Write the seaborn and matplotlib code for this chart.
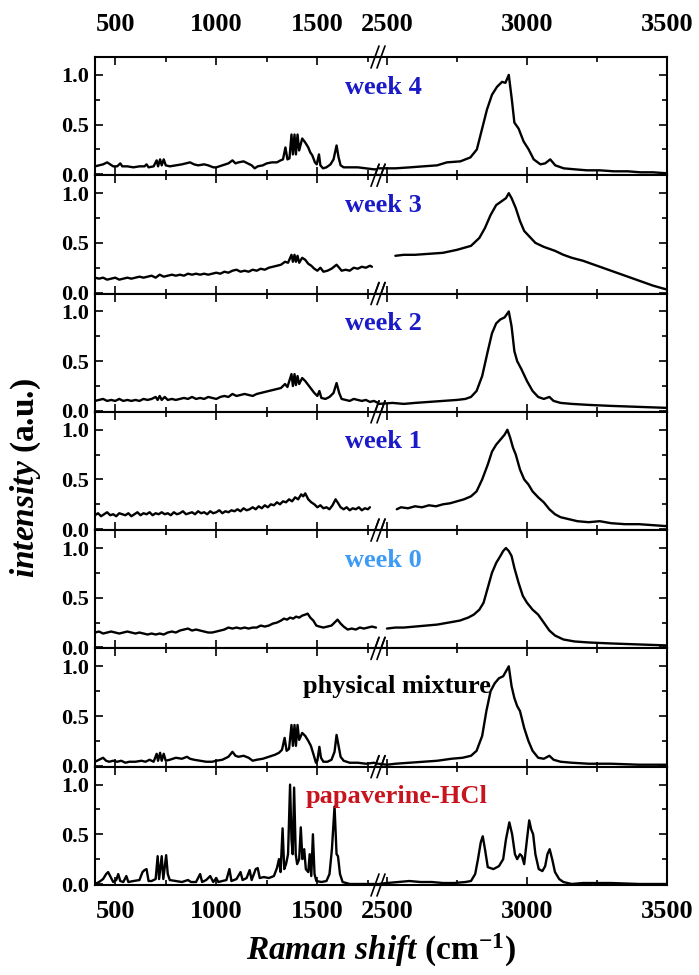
import numpy as np
import pandas as pd
import matplotlib
matplotlib.use("Agg")
import matplotlib.pyplot as plt
import seaborn as sns
from matplotlib.ticker import MultipleLocator

# ---- spectra (x in cm-1, y normalised intensity) ----
# left window 400-1800, right window 2470-3500
wk4_lo_x = [400, 420, 440, 460, 475, 490, 510, 525, 535, 560, 590, 620, 645, 655, 665, 690, 705, 712, 722, 730, 740, 750, 770, 800, 830, 850, 870, 890, 910, 940, 960, 985, 1000, 1030, 1060, 1080, 1095, 1110, 1135, 1155, 1175, 1190, 1205, 1230, 1250, 1275, 1300, 1318, 1330, 1342, 1352, 1362, 1372, 1379, 1387, 1394, 1402, 1410, 1425, 1440, 1455, 1465, 1475, 1488, 1497, 1508, 1515, 1528, 1545, 1565, 1580, 1595, 1605, 1615, 1630, 1660, 1700, 1740, 1780, 1800]
wk4_lo_y = [0.08, 0.09, 0.10, 0.12, 0.10, 0.08, 0.08, 0.11, 0.08, 0.08, 0.07, 0.08, 0.08, 0.10, 0.07, 0.08, 0.14, 0.08, 0.15, 0.09, 0.15, 0.09, 0.08, 0.09, 0.10, 0.11, 0.12, 0.10, 0.09, 0.10, 0.09, 0.07, 0.07, 0.09, 0.11, 0.14, 0.11, 0.12, 0.13, 0.11, 0.09, 0.06, 0.08, 0.09, 0.11, 0.12, 0.12, 0.14, 0.15, 0.27, 0.15, 0.16, 0.40, 0.20, 0.40, 0.20, 0.40, 0.24, 0.36, 0.32, 0.27, 0.22, 0.19, 0.12, 0.10, 0.20, 0.09, 0.06, 0.07, 0.10, 0.15, 0.29, 0.17, 0.09, 0.07, 0.07, 0.07, 0.06, 0.05, 0.05]
wk4_hi_x = [2470, 2488, 2530, 2583, 2630, 2679, 2714, 2762, 2798, 2821, 2839, 2857, 2875, 2893, 2911, 2923, 2935, 2946, 2955, 2970, 2988, 3006, 3024, 3048, 3065, 3083, 3101, 3131, 3170, 3214, 3260, 3310, 3360, 3405, 3450, 3500]
wk4_hi_y = [0.06, 0.06, 0.06, 0.07, 0.08, 0.09, 0.12, 0.13, 0.17, 0.25, 0.45, 0.65, 0.80, 0.88, 0.93, 0.92, 1.00, 0.75, 0.52, 0.46, 0.33, 0.25, 0.15, 0.10, 0.11, 0.15, 0.09, 0.06, 0.05, 0.04, 0.04, 0.03, 0.03, 0.02, 0.02, 0.01]

wk3_lo_x = [400, 420, 440, 460, 480, 500, 520, 540, 560, 580, 600, 620, 640, 660, 680, 700, 720, 740, 760, 780, 800, 820, 840, 860, 880, 900, 920, 940, 960, 980, 1000, 1020, 1040, 1060, 1080, 1100, 1120, 1140, 1160, 1180, 1200, 1220, 1240, 1260, 1280, 1300, 1320, 1340, 1355, 1372, 1379, 1387, 1394, 1402, 1410, 1425, 1440, 1455, 1470, 1485, 1500, 1515, 1530, 1550, 1570, 1595, 1608, 1620, 1640, 1660, 1680, 1700, 1720, 1740, 1760, 1770]
wk3_lo_y = [0.15, 0.14, 0.15, 0.13, 0.14, 0.15, 0.13, 0.14, 0.15, 0.14, 0.15, 0.16, 0.15, 0.16, 0.17, 0.15, 0.18, 0.16, 0.17, 0.18, 0.17, 0.18, 0.17, 0.19, 0.18, 0.19, 0.18, 0.19, 0.18, 0.19, 0.20, 0.19, 0.21, 0.20, 0.22, 0.23, 0.21, 0.22, 0.21, 0.23, 0.22, 0.24, 0.23, 0.25, 0.26, 0.27, 0.28, 0.31, 0.30, 0.38, 0.31, 0.38, 0.31, 0.37, 0.30, 0.35, 0.33, 0.29, 0.27, 0.24, 0.22, 0.25, 0.21, 0.22, 0.24, 0.28, 0.25, 0.22, 0.23, 0.22, 0.25, 0.24, 0.26, 0.25, 0.27, 0.26]
wk3_hi_x = [2530, 2560, 2600, 2650, 2700, 2750, 2800, 2830, 2850, 2870, 2890, 2910, 2925, 2935, 2945, 2960, 2975, 2990, 3010, 3030, 3060, 3080, 3100, 3130, 3160, 3200, 3250, 3300, 3350, 3400, 3450, 3500]
wk3_hi_y = [0.37, 0.38, 0.38, 0.39, 0.40, 0.43, 0.47, 0.55, 0.65, 0.78, 0.88, 0.92, 0.95, 1.00, 0.95, 0.85, 0.72, 0.62, 0.56, 0.50, 0.46, 0.44, 0.42, 0.38, 0.35, 0.32, 0.27, 0.22, 0.17, 0.12, 0.07, 0.03]

wk2_lo_x = [400, 420, 440, 460, 480, 500, 520, 540, 560, 580, 600, 620, 640, 660, 680, 700, 710, 720, 730, 745, 760, 780, 800, 820, 840, 860, 880, 900, 920, 940, 960, 980, 1000, 1020, 1040, 1060, 1080, 1100, 1120, 1140, 1160, 1180, 1200, 1220, 1240, 1260, 1280, 1300, 1320, 1340, 1352, 1372, 1379, 1387, 1394, 1402, 1410, 1425, 1440, 1455, 1470, 1485, 1500, 1510, 1520, 1540, 1560, 1580, 1595, 1608, 1620, 1640, 1660, 1680, 1700, 1720, 1740, 1760, 1780, 1800]
wk2_lo_y = [0.10, 0.11, 0.12, 0.10, 0.11, 0.10, 0.12, 0.10, 0.11, 0.10, 0.11, 0.10, 0.12, 0.11, 0.12, 0.14, 0.11, 0.15, 0.11, 0.14, 0.11, 0.12, 0.11, 0.12, 0.13, 0.12, 0.14, 0.12, 0.13, 0.12, 0.14, 0.13, 0.12, 0.14, 0.15, 0.14, 0.17, 0.15, 0.16, 0.17, 0.16, 0.15, 0.17, 0.18, 0.19, 0.20, 0.21, 0.22, 0.23, 0.27, 0.24, 0.37, 0.25, 0.37, 0.26, 0.35, 0.27, 0.33, 0.30, 0.26, 0.22, 0.18, 0.15, 0.20, 0.13, 0.12, 0.14, 0.18, 0.28, 0.18, 0.12, 0.11, 0.10, 0.12, 0.11, 0.10, 0.11, 0.09, 0.10, 0.08]
wk2_hi_x = [2470, 2520, 2560, 2600, 2650, 2700, 2750, 2780, 2800, 2820, 2840, 2860, 2875, 2890, 2905, 2920, 2935, 2945, 2955, 2965, 2980, 3000, 3020, 3040, 3060, 3080, 3095, 3120, 3160, 3220, 3300, 3400, 3500]
wk2_hi_y = [0.07, 0.08, 0.07, 0.08, 0.09, 0.10, 0.11, 0.12, 0.14, 0.20, 0.35, 0.60, 0.78, 0.88, 0.92, 0.94, 1.00, 0.85, 0.60, 0.50, 0.42, 0.30, 0.20, 0.14, 0.12, 0.14, 0.10, 0.08, 0.07, 0.06, 0.05, 0.04, 0.03]

wk1_lo_x = [400, 415, 430, 445, 460, 475, 490, 505, 520, 535, 550, 565, 580, 595, 610, 625, 640, 655, 670, 685, 700, 715, 730, 745, 760, 775, 790, 805, 820, 835, 850, 865, 880, 895, 910, 925, 940, 955, 970, 985, 1000, 1015, 1030, 1045, 1060, 1075, 1090, 1105, 1120, 1135, 1150, 1165, 1180, 1195, 1210, 1225, 1240, 1255, 1270, 1285, 1300, 1315, 1330, 1345, 1360, 1375, 1390, 1405, 1420, 1430, 1440, 1455, 1470, 1485, 1500, 1515, 1530, 1545, 1560, 1575, 1590, 1600, 1615, 1630, 1645, 1660, 1675, 1690, 1705, 1720, 1735, 1750, 1760]
wk1_lo_y = [0.14, 0.16, 0.13, 0.15, 0.17, 0.14, 0.15, 0.13, 0.16, 0.15, 0.14, 0.16, 0.13, 0.15, 0.17, 0.14, 0.16, 0.15, 0.17, 0.14, 0.16, 0.15, 0.17, 0.15, 0.16, 0.14, 0.17, 0.15, 0.16, 0.18, 0.15, 0.16, 0.17, 0.15, 0.18, 0.16, 0.17, 0.15, 0.18, 0.16, 0.17, 0.19, 0.16, 0.18, 0.17, 0.19, 0.18, 0.20, 0.18, 0.21, 0.19, 0.20, 0.22, 0.20, 0.23, 0.21, 0.24, 0.22, 0.25, 0.24, 0.27, 0.25, 0.28, 0.27, 0.30, 0.28, 0.32, 0.30, 0.35, 0.33, 0.36, 0.30, 0.27, 0.25, 0.22, 0.24, 0.21, 0.22, 0.20, 0.24, 0.30, 0.27, 0.22, 0.20, 0.22, 0.19, 0.21, 0.20, 0.22, 0.19, 0.21, 0.20, 0.22]
wk1_hi_x = [2535, 2550, 2575, 2600, 2625, 2650, 2675, 2700, 2725, 2750, 2775, 2800, 2820, 2840, 2860, 2875, 2890, 2905, 2920, 2930, 2940, 2950, 2960, 2975, 2990, 3005, 3020, 3040, 3060, 3080, 3100, 3120, 3150, 3180, 3220, 3260, 3300, 3350, 3400, 3450, 3500]
wk1_hi_y = [0.20, 0.22, 0.21, 0.23, 0.22, 0.24, 0.23, 0.25, 0.26, 0.28, 0.30, 0.33, 0.38, 0.50, 0.65, 0.78, 0.85, 0.90, 0.95, 1.00, 0.92, 0.82, 0.75, 0.60, 0.50, 0.45, 0.38, 0.32, 0.27, 0.20, 0.15, 0.12, 0.10, 0.08, 0.07, 0.08, 0.06, 0.05, 0.05, 0.04, 0.03]

wk0_lo_x = [400, 420, 440, 460, 480, 500, 520, 540, 560, 580, 600, 620, 640, 660, 680, 700, 720, 740, 760, 780, 800, 820, 840, 860, 880, 900, 920, 940, 960, 980, 1000, 1020, 1040, 1060, 1080, 1100, 1120, 1140, 1160, 1180, 1200, 1220, 1240, 1260, 1280, 1300, 1320, 1335, 1350, 1365, 1380, 1395, 1410, 1425, 1440, 1452, 1465, 1480, 1495, 1510, 1530, 1550, 1570, 1585, 1600, 1615, 1630, 1650, 1670, 1690, 1710, 1730, 1750, 1770, 1790]
wk0_lo_y = [0.15, 0.16, 0.14, 0.15, 0.16, 0.15, 0.14, 0.15, 0.16, 0.15, 0.14, 0.15, 0.14, 0.13, 0.14, 0.13, 0.14, 0.13, 0.15, 0.16, 0.15, 0.17, 0.18, 0.19, 0.17, 0.18, 0.17, 0.16, 0.15, 0.15, 0.16, 0.17, 0.18, 0.20, 0.19, 0.20, 0.19, 0.20, 0.19, 0.20, 0.20, 0.22, 0.21, 0.22, 0.24, 0.25, 0.27, 0.29, 0.28, 0.30, 0.29, 0.31, 0.30, 0.32, 0.33, 0.34, 0.30, 0.27, 0.22, 0.21, 0.20, 0.21, 0.22, 0.25, 0.28, 0.24, 0.21, 0.18, 0.19, 0.18, 0.20, 0.19, 0.20, 0.21, 0.20]
wk0_hi_x = [2500, 2530, 2560, 2600, 2640, 2680, 2720, 2760, 2790, 2810, 2830, 2845, 2860, 2875, 2890, 2905, 2915, 2925, 2935, 2945, 2955, 2970, 2985, 3000, 3020, 3040, 3060, 3080, 3100, 3130, 3170, 3220, 3300, 3400, 3500]
wk0_hi_y = [0.19, 0.20, 0.20, 0.21, 0.22, 0.23, 0.25, 0.27, 0.30, 0.33, 0.38, 0.45, 0.60, 0.75, 0.85, 0.92, 0.97, 1.00, 0.97, 0.92, 0.80, 0.65, 0.52, 0.45, 0.38, 0.33, 0.25, 0.17, 0.12, 0.08, 0.06, 0.05, 0.04, 0.03, 0.02]

mix_lo_x = [400, 420, 440, 455, 470, 490, 510, 530, 550, 570, 600, 630, 650, 670, 690, 705, 712, 722, 730, 740, 750, 770, 800, 830, 855, 870, 890, 920, 950, 980, 1000, 1030, 1060, 1080, 1095, 1110, 1135, 1160, 1180, 1200, 1230, 1260, 1290, 1310, 1325, 1338, 1348, 1360, 1372, 1379, 1387, 1394, 1402, 1410, 1425, 1440, 1455, 1468, 1480, 1493, 1500, 1510, 1518, 1530, 1550, 1570, 1585, 1595, 1605, 1615, 1630, 1660, 1700, 1740, 1780, 1800]
mix_lo_y = [0.04, 0.06, 0.08, 0.05, 0.04, 0.05, 0.04, 0.05, 0.03, 0.04, 0.04, 0.05, 0.04, 0.06, 0.04, 0.12, 0.05, 0.13, 0.05, 0.12, 0.05, 0.06, 0.08, 0.07, 0.09, 0.07, 0.06, 0.05, 0.04, 0.04, 0.05, 0.06, 0.09, 0.14, 0.10, 0.09, 0.10, 0.08, 0.05, 0.06, 0.07, 0.09, 0.11, 0.13, 0.16, 0.28, 0.15, 0.17, 0.41, 0.20, 0.41, 0.20, 0.41, 0.26, 0.33, 0.30, 0.25, 0.20, 0.12, 0.03, 0.05, 0.19, 0.08, 0.04, 0.04, 0.06, 0.14, 0.31, 0.20, 0.09, 0.05, 0.03, 0.03, 0.02, 0.03, 0.02]
mix_hi_x = [2470, 2500, 2530, 2580, 2630, 2680, 2730, 2770, 2800, 2820, 2840, 2855, 2870, 2885, 2900, 2915, 2925, 2935, 2945, 2955, 2965, 2975, 2990, 3005, 3020, 3040, 3060, 3080, 3095, 3120, 3160, 3220, 3300, 3400, 3500]
mix_hi_y = [0.02, 0.01, 0.02, 0.03, 0.04, 0.05, 0.07, 0.08, 0.10, 0.15, 0.30, 0.55, 0.75, 0.83, 0.88, 0.90, 0.95, 1.00, 0.80, 0.68, 0.60, 0.55, 0.38, 0.25, 0.15, 0.08, 0.07, 0.10, 0.06, 0.04, 0.03, 0.02, 0.02, 0.01, 0.01]

pap_lo_x = [400, 420, 440, 455, 465, 475, 490, 505, 515, 525, 540, 555, 565, 590, 620, 635, 645, 655, 665, 680, 700, 710, 717, 730, 738, 752, 760, 770, 800, 830, 860, 875, 900, 920, 930, 950, 970, 985, 1000, 1010, 1030, 1050, 1065, 1075, 1100, 1120, 1130, 1150, 1165, 1175, 1195, 1205, 1215, 1235, 1260, 1285, 1300, 1310, 1318, 1328, 1336, 1345, 1355, 1365, 1372, 1378, 1385, 1393, 1400, 1410, 1418, 1426, 1435, 1443, 1455, 1462, 1470, 1478, 1486, 1495, 1520, 1545, 1560, 1572, 1585, 1595, 1602, 1612, 1625, 1660, 1700, 1750, 1800]
pap_lo_y = [0.00, 0.02, 0.05, 0.10, 0.12, 0.08, 0.02, 0.04, 0.10, 0.03, 0.02, 0.08, 0.02, 0.03, 0.04, 0.12, 0.14, 0.15, 0.03, 0.03, 0.05, 0.28, 0.05, 0.28, 0.05, 0.29, 0.10, 0.04, 0.03, 0.02, 0.04, 0.02, 0.02, 0.10, 0.02, 0.04, 0.08, 0.02, 0.06, 0.02, 0.03, 0.04, 0.15, 0.03, 0.05, 0.12, 0.04, 0.06, 0.14, 0.04, 0.15, 0.16, 0.06, 0.07, 0.06, 0.08, 0.16, 0.25, 0.12, 0.56, 0.15, 0.20, 0.30, 1.00, 0.45, 0.30, 0.97, 0.30, 0.20, 0.25, 0.57, 0.25, 0.35, 0.15, 0.12, 0.30, 0.08, 0.50, 0.10, 0.03, 0.02, 0.03, 0.10, 0.35, 0.78, 0.30, 0.28, 0.10, 0.02, 0.00, 0.00, 0.00, 0.00]
pap_hi_x = [2470, 2500, 2540, 2580, 2620, 2660, 2700, 2740, 2780, 2800, 2815, 2825, 2835, 2842, 2850, 2860, 2880, 2900, 2915, 2925, 2937, 2947, 2957, 2965, 2975, 2982, 2990, 3000, 3008, 3015, 3022, 3030, 3042, 3055, 3065, 3073, 3081, 3090, 3100, 3115, 3130, 3160, 3200, 3300, 3400, 3500]
pap_hi_y = [0.00, 0.01, 0.02, 0.03, 0.02, 0.02, 0.01, 0.01, 0.02, 0.03, 0.10, 0.25, 0.42, 0.48, 0.35, 0.17, 0.15, 0.18, 0.25, 0.45, 0.62, 0.50, 0.30, 0.25, 0.30, 0.28, 0.20, 0.45, 0.64, 0.55, 0.50, 0.30, 0.15, 0.13, 0.18, 0.30, 0.35, 0.25, 0.12, 0.05, 0.02, 0.00, 0.01, 0.01, 0.00, 0.00]

labels = ["week 4", "week 3", "week 2", "week 1", "week 0", "physical mixture", "papaverine-HCl"]
label_colors = ["#1a1ac8", "#1a1ac8", "#1a1ac8", "#1a1ac8", "#3d9bf5", "#000000", "#c8141e"]
spectra = [
    (wk4_lo_x, wk4_lo_y, wk4_hi_x, wk4_hi_y),
    (wk3_lo_x, wk3_lo_y, wk3_hi_x, wk3_hi_y),
    (wk2_lo_x, wk2_lo_y, wk2_hi_x, wk2_hi_y),
    (wk1_lo_x, wk1_lo_y, wk1_hi_x, wk1_hi_y),
    (wk0_lo_x, wk0_lo_y, wk0_hi_x, wk0_hi_y),
    (mix_lo_x, mix_lo_y, mix_hi_x, mix_hi_y),
    (pap_lo_x, pap_lo_y, pap_hi_x, pap_hi_y),
]

sns.set_theme(style="ticks")
plt.rcParams["font.family"] = ["Liberation Serif", "DejaVu Serif"]
plt.rcParams["font.weight"] = "bold"
plt.rcParams["mathtext.fontset"] = "custom"
plt.rcParams["mathtext.it"] = "Liberation Serif:italic:bold"
plt.rcParams["mathtext.rm"] = "Liberation Serif:bold"
plt.rcParams["mathtext.bf"] = "Liberation Serif:bold"
for key in ("text.color", "axes.edgecolor", "axes.labelcolor", "xtick.color", "ytick.color"):
    plt.rcParams[key] = "black"

W, H = 699, 975
fig = plt.figure(figsize=(W / 100, H / 100), dpi=100)
gs = fig.add_gridspec(7, 2, left=95 / W, right=667 / W, top=1 - 57 / H, bottom=1 - 885 / H,
                      width_ratios=[283, 289], hspace=0, wspace=0)

lw_sp = 1.5
for i, (lx, ly, hx, hy) in enumerate(spectra):
    axl = fig.add_subplot(gs[i, 0])
    axr = fig.add_subplot(gs[i, 1])
    lo = pd.DataFrame({"x": lx, "y": ly})
    hi = pd.DataFrame({"x": hx, "y": hy})
    sns.lineplot(data=lo, x="x", y="y", ax=axl, color="black", lw=1.7, sort=False, estimator=None)
    sns.lineplot(data=hi, x="x", y="y", ax=axr, color="black", lw=1.7, sort=False, estimator=None)

    for ax, xlim in ((axl, (400, 1800)), (axr, (2468, 3500))):
        ax.set_xlim(*xlim)
        ax.set_ylim(-0.01, 1.18)
        ax.set_xlabel("")
        ax.set_ylabel("")
        ax.xaxis.set_major_locator(MultipleLocator(500))
        ax.xaxis.set_minor_locator(MultipleLocator(250))
        ax.yaxis.set_major_locator(MultipleLocator(0.5))
        ax.yaxis.set_minor_locator(MultipleLocator(0.25))
        ax.yaxis.set_major_formatter(plt.FormatStrFormatter("%.1f"))
        for s in ax.spines.values():
            s.set_linewidth(lw_sp)
            s.set_color("black")
        ax.tick_params(which="both", direction="in", top=True, bottom=True,
                       labelbottom=(i == 6), labeltop=(i == 0), width=1.2, colors="black")
        ax.tick_params(which="major", length=6)
        ax.tick_params(which="minor", length=3.5)
        ax.tick_params(axis="x", labelsize=19, pad=(15 if i == 0 else 11))
        ax.tick_params(axis="y", labelsize=16, pad=4)
        for t in ax.get_xticklabels() + ax.get_yticklabels():
            t.set_fontweight("bold")

    axl.spines["right"].set_visible(False)
    axr.spines["left"].set_visible(False)
    axl.tick_params(axis="y", which="both", left=True, right=False)
    axr.tick_params(axis="y", which="both", left=False, right=True, labelleft=False)

    # break marks //
    for yb in (0, 1):
        for off in (-3, 3):
            axr.plot([(off - 4) / 289, (off + 4) / 289], [yb - 11 / 118, yb + 11 / 118],
                     transform=axr.transAxes, color="black", lw=1.2, clip_on=False, zorder=5)

    top_px = 57 + i * (828 / 7)
    if labels[i] == "physical mixture":
        cx, cy = 397, top_px + 38
    elif labels[i] == "papaverine-HCl":
        cx, cy = 397, top_px + 30
    else:
        cx, cy = 383, top_px + 30
    fig.text(cx / W, 1 - cy / H, labels[i], color=label_colors[i], fontsize=19,
             fontweight="bold", ha="center", va="center")

fig.text(0.5 * (95 + 667) / W, 1 - 950 / H, r"$\mathit{Raman\ shift}$ (cm$^{\mathbf{-1}}$)",
         fontsize=24, fontweight="bold", ha="center", va="center", color="black")
fig.text(26 / W, 1 - 478 / H, r"$\mathit{intensity}$ (a.u.)", fontsize=24, fontweight="bold",
         rotation=90, ha="center", va="center", color="black")

fig.savefig("out.png", dpi=100)
